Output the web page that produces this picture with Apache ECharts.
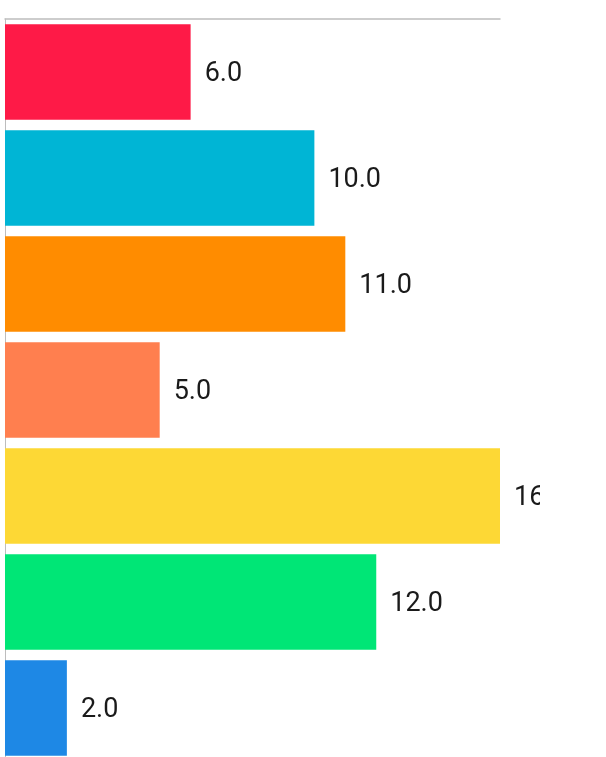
<!DOCTYPE html>
<html>
<head>
<meta charset="utf-8">
<script src="https://cdn.jsdelivr.net/npm/echarts@6/dist/echarts.min.js"></script>
<style>
html,body{margin:0;padding:0;background:#fff;overflow:hidden;}
#chart{width:540px;height:770px;}
</style>
</head>
<body>
<div id="chart"></div>
<script>
var categories = ['A', 'B', 'C', 'D', 'E', 'F', 'G'];
var values = [6, 10, 11, 5, 16, 12, 2];
var colors = ['#FE1A47', '#00B5D5', '#FF8C00', '#FF7F4F', '#FDD835', '#00E676', '#1E88E5'];

var chart = echarts.init(document.getElementById('chart'), null, {renderer: 'canvas'});
chart.setOption({
  animation: false,
  backgroundColor: '#ffffff',
  grid: {left: 5, top: 19, width: 495, height: 742, containLabel: false},
  xAxis: {
    type: 'value', position: 'top', min: 0, max: 16,
    axisLine: {show: true, lineStyle: {color: '#bdbdbd', width: 1.5}},
    axisTick: {show: false}, axisLabel: {show: false}, splitLine: {show: false}
  },
  yAxis: {
    type: 'category', inverse: true, data: categories,
    axisLine: {show: true, lineStyle: {color: '#bdbdbd', width: 1}},
    axisTick: {show: false}, axisLabel: {show: false}
  },
  series: [{
    type: 'bar',
    barWidth: '90%',
    data: values.map(function (v, i) { return {value: v, itemStyle: {color: colors[i]}}; }),
    label: {
      show: true, position: 'right', distance: 14, offset: [0, 2],
      fontFamily: 'Roboto', fontSize: 27, color: '#1a1a1a',
      formatter: function (p) { return p.value.toFixed(1); }
    }
  }]
});
</script>
</body>
</html>
